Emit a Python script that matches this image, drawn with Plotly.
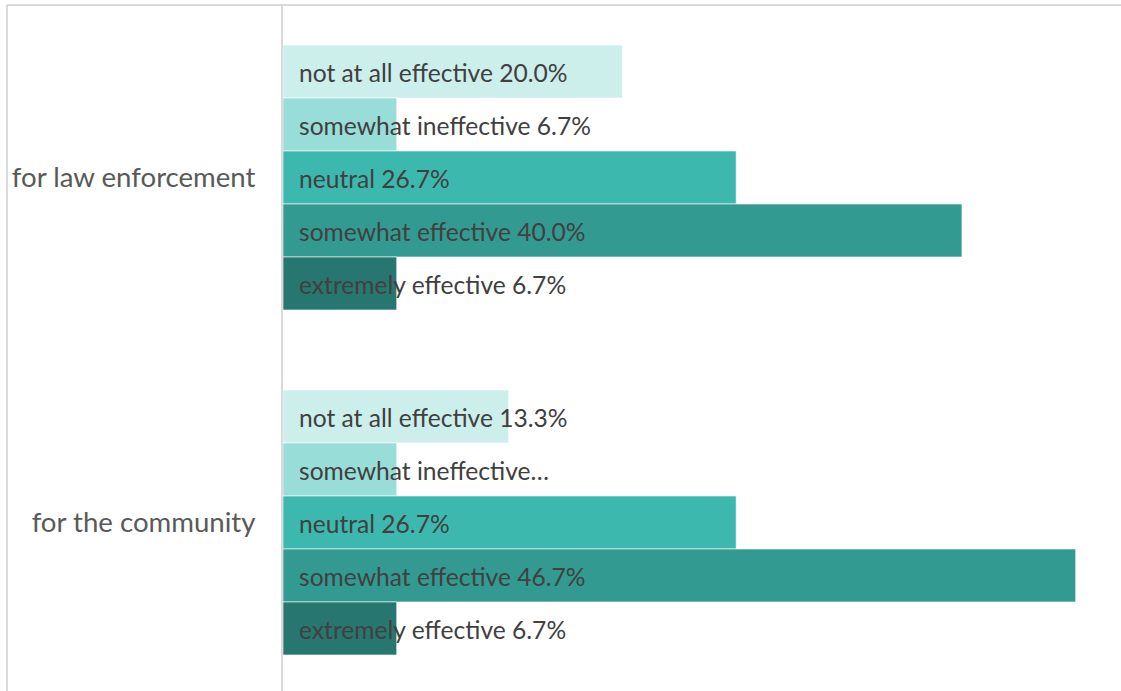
import plotly.graph_objects as go

# Survey results: perceived effectiveness, share of respondents (%)
categories = ["for law enforcement", "for the community"]
series_names = [
    "not at all effective",
    "somewhat ineffective",
    "neutral",
    "somewhat effective",
    "extremely effective",
]
values = {
    "not at all effective": [20.0, 13.3],
    "somewhat ineffective": [6.7, 6.7],
    "neutral": [26.7, 26.7],
    "somewhat effective": [40.0, 46.7],
    "extremely effective": [6.7, 6.7],
}
# Labels that get cut short in the second group
label_override = {("somewhat ineffective", 1): "somewhat ineffective…"}

colors = ["#CCEFEB", "#98DDD7", "#3DB8AE", "#339A91", "#277770"]

BARGAP = 0.232
FONT = "Lato"

fig = go.Figure()
for name, color in zip(series_names, colors):
    fig.add_trace(go.Bar(
        y=categories,
        x=values[name],
        name=name,
        orientation="h",
        marker=dict(color=color, line=dict(color="white", width=0.6)),
        hoverinfo="skip",
    ))

# Value labels anchored at the bar base, one per bar slot
n = len(series_names)
group_w = 1 - BARGAP
slot_w = group_w / n
annotations = []
for ci, cat in enumerate(categories):
    for si, name in enumerate(series_names):
        v = values[name][ci]
        txt = label_override.get((name, ci), f"{name} {v:.1f}%")
        annotations.append(dict(
            x=0, y=ci - group_w / 2 + (si + 0.5) * slot_w,
            xref="x", yref="y",
            text=txt, showarrow=False,
            xanchor="left", yanchor="middle", xshift=14, yshift=-1,
            font=dict(family=FONT, size=24.6, color="#404040"),
        ))

frame = "#D9D9D9"
fig.update_layout(
    width=1121, height=691,
    margin=dict(l=283, r=0, t=5, b=0),
    paper_bgcolor="white", plot_bgcolor="white",
    barmode="group", bargap=BARGAP, bargroupgap=0,
    showlegend=False,
    annotations=annotations,
    shapes=[
        dict(type="line", xref="paper", yref="paper",
             x0=-0.3294, x1=1.01, y0=1, y1=1,
             line=dict(color=frame, width=2)),
        dict(type="line", xref="paper", yref="paper",
             x0=-0.3294, x1=-0.3294, y0=-0.01, y1=1,
             line=dict(color=frame, width=2)),
    ],
)
fig.update_xaxes(range=[0, 49.37], showgrid=False, zeroline=False,
                 showticklabels=False, ticks="")
fig.update_yaxes(range=[1.4884, -0.5], showgrid=False, zeroline=False,
                 showline=True, linecolor=frame, linewidth=2,
                 ticks="", ticklabelstandoff=20,
                 tickfont=dict(family=FONT, size=27.6, color="#595959"))

fig.write_html("out.html")
